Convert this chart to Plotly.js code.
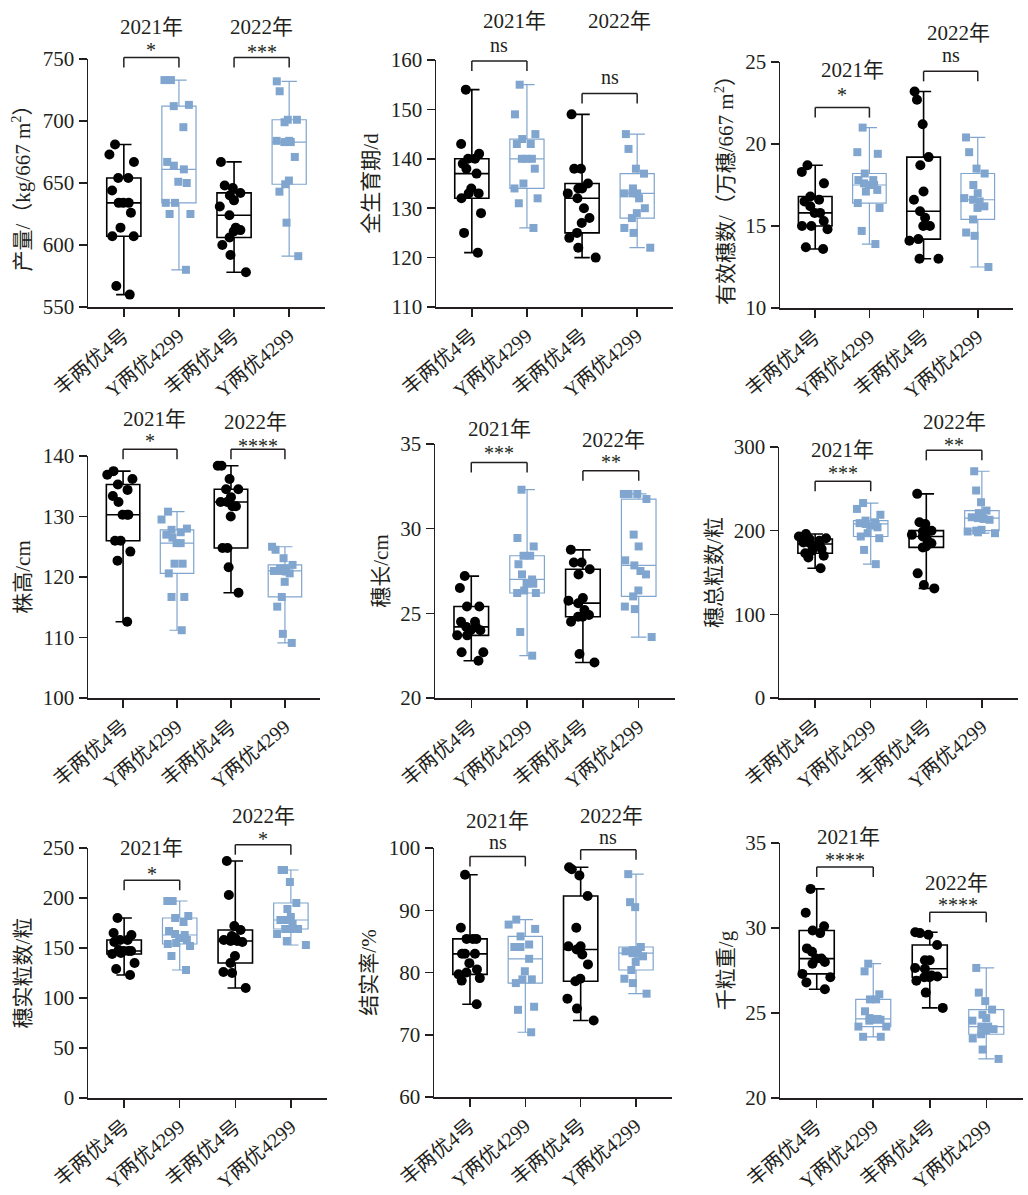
<!DOCTYPE html>
<html>
<head>
<meta charset="utf-8">
<script src="https://cdn.plot.ly/plotly-3.0.1.min.js"></script>
<style>body{margin:0;background:#fff}</style>
</head>
<body>
<div id="chart" style="width:1028px;height:1195px"></div>
<script>
// group labels on every x axis
const categories = ['丰两优4号', 'Y两优4299', '丰两优4号', 'Y两优4299']

// 产量 kg/667 m2
const yield_fl21 = [681, 673, 667, 654, 654, 644, 634, 634, 634, 626, 614, 607, 607, 567, 560]
const yield_yl21 = [733, 733, 713, 712, 695, 667, 664, 661, 651, 650, 634, 634, 625, 625, 580]
const yield_fl22 = [667, 648, 646, 642, 640, 636, 631, 624, 614, 612, 611, 606, 600, 592, 578]
const yield_yl22 = [732, 724, 701, 701, 699, 684, 684, 683, 683, 671, 652, 649, 643, 618, 591]

// 全生育期 d
const dur_fl21 = [154, 143, 141, 140, 140, 139, 138, 137, 134, 133, 133, 132, 129, 125, 121]
const dur_yl21 = [155, 149, 145, 144, 143, 143, 140, 140, 140, 138, 135, 134, 132, 131, 126]
const dur_fl22 = [149, 138, 138, 135, 134, 134, 133, 132, 130, 128, 127, 125, 124, 122, 120]
const dur_yl22 = [145, 142, 138, 137, 134, 133, 133, 133, 132, 130, 129, 128, 126, 125, 122]

// 有效穗数 万穗/667 m2
const pan_fl21 = [18.7, 18.3, 17.6, 16.8, 16.6, 16.5, 16.2, 15.8, 15.8, 15.3, 15.0, 15.0, 14.8, 13.7, 13.6]
const pan_yl21 = [21.0, 19.5, 19.4, 18.2, 17.8, 17.8, 17.6, 17.5, 17.5, 17.2, 17.1, 16.4, 16.1, 14.7, 13.9]
const pan_fl22 = [23.2, 22.7, 21.2, 19.2, 18.7, 17.1, 16.6, 15.9, 15.5, 15.0, 15.0, 14.2, 14.1, 13.0, 13.0]
const pan_yl22 = [20.4, 19.5, 18.5, 18.2, 17.5, 17.0, 16.7, 16.6, 16.5, 16.2, 16.1, 15.4, 14.6, 14.4, 12.5]

// 株高 cm
const ht_fl21 = [137.5, 136.9, 136.2, 135.3, 134.4, 133.4, 132.4, 130.3, 130.3, 130.3, 126, 126, 124.2, 122.7, 112.6]
const ht_yl21 = [130.8, 129.5, 128, 127.8, 127.4, 127, 126.5, 125.6, 125.6, 122.2, 122.2, 120.6, 116.7, 116.7, 111.2]
const ht_fl22 = [138.4, 138.4, 136.2, 134.5, 134.5, 133.2, 132.4, 132.4, 131.7, 131.7, 130, 124.8, 124.8, 121.6, 117.4]
const ht_yl22 = [125, 124.5, 123.1, 122, 121.4, 121.4, 121, 121, 120.9, 120.6, 119.2, 116.7, 115.1, 110.6, 109.1]

// 穗长 cm
const len_fl21 = [27.2, 26.5, 25.4, 25.4, 24.5, 24.5, 24.2, 24.2, 24.0, 24.0, 23.7, 23.7, 22.7, 22.7, 22.2]
const len_yl21 = [32.3, 29.45, 28.95, 28.4, 28.4, 27.9, 27.3, 27.0, 26.75, 26.75, 26.35, 26.2, 26.2, 23.9, 22.5]
const len_fl22 = [28.75, 28.0, 28.0, 27.6, 27.3, 25.9, 25.75, 25.6, 25.2, 24.9, 24.8, 24.8, 24.5, 22.6, 22.1]
const len_yl22 = [32.05, 32.05, 32.05, 31.75, 29.65, 28.95, 28.13, 27.83, 27.5, 27.3, 26.35, 26.0, 25.4, 25.25, 23.6]

// 穗总粒数
const tot_fl21 = [196, 193, 191, 190, 188, 186, 185, 184, 182, 178, 176, 173, 170, 168, 155]
const tot_yl21 = [233, 226, 219, 212, 210, 209, 208, 208, 206, 204, 197, 193, 191, 177, 160]
const tot_fl22 = [244, 210, 208, 200, 199, 197, 195, 193, 188, 185, 181, 180, 149, 135, 131]
const tot_yl22 = [271, 248, 234, 224, 221, 219, 216, 215, 214, 213, 201, 200, 199, 198, 197]

// 穗实粒数
const fil_fl21 = [180, 165, 163, 158, 158, 156, 148, 147, 147, 147, 145, 144, 135, 129, 123]
const fil_yl21 = [197, 197, 182, 180, 176, 167, 164, 163, 160, 158, 155, 154, 152, 142, 128]
const fil_fl22 = [237, 203, 172, 168, 162, 160, 158, 157, 157, 156, 142, 135, 126, 125, 110]
const fil_yl22 = [228, 228, 216, 195, 189, 181, 178, 178, 174, 169, 169, 169, 164, 157, 153]

// 结实率 %
const set_fl21 = [95.7, 87.2, 85.4, 85.4, 85.4, 83.0, 83.0, 83.0, 81.5, 80.5, 80.0, 79.7, 79.1, 78.7, 74.9]
const set_yl21 = [88.5, 87.7, 87.0, 85.8, 84.5, 84.1, 84.1, 82.2, 80.2, 78.9, 78.9, 78.3, 74.5, 74.0, 70.4]
const set_fl22 = [96.9, 96.6, 95.6, 92.3, 87.2, 84.2, 84.2, 83.7, 82.9, 81.3, 79.0, 78.6, 75.8, 74.2, 72.3]
const set_yl22 = [95.8, 91.3, 90.5, 84.1, 83.6, 83.5, 83.4, 83.1, 83.0, 82.6, 81.7, 80.4, 79.0, 78.3, 76.6]

// 千粒重 g
const tgw_fl21 = [32.3, 30.9, 30.1, 29.85, 29.7, 28.8, 28.6, 28.2, 28.2, 28.0, 27.9, 27.3, 27.1, 26.8, 26.4]
const tgw_yl21 = [27.9, 27.45, 26.1, 25.8, 25.8, 25.1, 24.7, 24.65, 24.6, 24.6, 24.55, 24.2, 24.2, 23.6, 23.6]
const tgw_fl22 = [29.75, 29.7, 29.6, 29.0, 28.1, 28.1, 27.65, 27.6, 27.2, 27.15, 27.1, 27.1, 26.9, 26.2, 25.3]
const tgw_yl22 = [27.65, 26.2, 25.7, 25.2, 24.9, 24.7, 24.55, 24.2, 24.2, 24.05, 24.0, 23.75, 23.5, 22.85, 22.3]

// significance marks per panel
const sig_2021 = ['*', 'ns', '*', '*', '***', '***', '*', 'ns', '****']
const sig_2022 = ['***', 'ns', 'ns', '****', '**', '**', '*', 'ns', '****']

const W = 1028, H = 1195
const x_range = [-0.65, 3.65]
const text_color = '#231f20'
const blue = '#80a5ce'
const font_family = '"Liberation Serif", "Times New Roman", "Noto Sans CJK SC", serif'

// box [left, right, top, bottom] in page pixels, bracket: [top value, sig offset px, year offset px, year dx]
const panels = [
    {title: '产量/（kg/667 m<sup>2</sup>）', range: [550, 750], dtick: 50, box: [88, 325, 59, 307],
     data: [yield_fl21, yield_yl21, yield_fl22, yield_yl22],
     b21: [751.3, 10, 30, 0], b22: [751.3, 8, 30, 0]},
    {title: '全生育期/d', range: [110, 160], dtick: 10, box: [436, 673, 60, 307],
     data: [dur_fl21, dur_yl21, dur_fl22, dur_yl22],
     b21: [159.8, 14, 40, 15], b22: [153.2, 15, 73, 10]},
    {title: '有效穗数/（万穗/667 m<sup>2</sup>）', range: [10, 25], dtick: 5, box: [780, 1013, 62, 308],
     data: [pan_fl21, pan_yl21, pan_fl22, pan_yl22],
     b21: [22.22, 15.6, 38, 10], b22: [24.43, 14.3, 38, 8]},
    {title: '株高/cm', range: [100, 140], dtick: 10, box: [88, 320, 456, 698],
     data: [ht_fl21, ht_yl21, ht_fl22, ht_yl22],
     b21: [141.1, 11, 30, 4], b22: [141.1, 6.6, 27, -2]},
    {title: '穗长/cm', range: [20, 35], dtick: 5, box: [435, 675, 444, 698],
     data: [len_fl21, len_yl21, len_fl22, len_yl22],
     b21: [33.91, 12.7, 33, 0], b22: [33.42, 11.7, 31, 3]},
    {title: '穗总粒数/粒', range: [0, 300], dtick: 100, box: [779, 1018, 447, 698],
     data: [tot_fl21, tot_yl21, tot_fl22, tot_yl22],
     b21: [259.1, 11, 31, 0], b22: [296, 8.3, 28.5, 0]},
    {title: '穗实粒数/粒', range: [0, 250], dtick: 50, box: [88, 327, 848, 1098],
     data: [fil_fl21, fil_yl21, fil_fl22, fil_yl22],
     b21: [217.7, 9.7, 32, 0], b22: [253.3, 9, 28.5, 0]},
    {title: '结实率/%', range: [60, 100], dtick: 10, box: [434, 672, 848, 1097],
     data: [set_fl21, set_yl21, set_fl22, set_yl22],
     b21: [98.65, 12, 35, 0], b22: [99.7, 11, 34, 3]},
    {title: '千粒重/g', range: [20, 35], dtick: 5, box: [780, 1023, 843, 1098],
     data: [tgw_fl21, tgw_yl21, tgw_fl22, tgw_yl22],
     b21: [33.59, 10, 29.5, 4], b22: [30.92, 10, 29, -2]},
]

function quantile(sorted, q) {
    // (n+1) method, as GraphPad does
    var pos = q * (sorted.length + 1) - 1
    if (pos <= 0) return sorted[0]
    if (pos >= sorted.length - 1) return sorted[sorted.length - 1]
    var lo = Math.floor(pos)
    return sorted[lo] + (pos - lo) * (sorted[lo + 1] - sorted[lo])
}

function box_trace(id, positions, samples, color, symbol, size, line_width) {
    var stats = samples.map(function (s) {
        var sorted = s.slice().sort(function (a, b) { return a - b })
        return {
            q1: quantile(sorted, 0.25),
            med: quantile(sorted, 0.5),
            q3: quantile(sorted, 0.75),
            lo: sorted[0],
            hi: sorted[sorted.length - 1],
        }
    })
    return {
        type: 'box',
        orientation: 'v',
        x: positions,
        y: samples,
        q1: stats.map(function (s) { return s.q1 }),
        median: stats.map(function (s) { return s.med }),
        q3: stats.map(function (s) { return s.q3 }),
        lowerfence: stats.map(function (s) { return s.lo }),
        upperfence: stats.map(function (s) { return s.hi }),
        boxpoints: 'all',
        jitter: 1,
        pointpos: 0,
        width: 0.62,
        whiskerwidth: 0.45,
        fillcolor: 'rgba(0,0,0,0)',
        line: {color: color, width: line_width},
        marker: {color: color, symbol: symbol, size: size, line: {width: 0}},
        xaxis: 'x' + id,
        yaxis: 'y' + id,
        hoverinfo: 'skip',
    }
}

function bracket(p, id, from, to, spec, sig, year) {
    var y0 = p.range[0], y1 = p.range[1]
    var h = p.box[3] - p.box[2]
    var fx = function (v) { return (v - x_range[0]) / (x_range[1] - x_range[0]) }
    var fy = function (v) { return (v - y0) / (y1 - y0) }
    var top = fy(spec[0])
    var leg = top - 10 / h
    var xref = 'x' + id + ' domain', yref = 'y' + id + ' domain'
    var base = {type: 'line', xref: xref, yref: yref, line: {color: text_color, width: 1.5}}
    var shapes = [
        Object.assign({x0: fx(from), x1: fx(to), y0: top, y1: top}, base),
        Object.assign({x0: fx(from), x1: fx(from), y0: top, y1: leg}, base),
        Object.assign({x0: fx(to), x1: fx(to), y0: top, y1: leg}, base),
    ]
    var sig_shift = sig === 'ns' ? spec[1] + 2 : spec[1] - 3
    var annotations = [
        {xref: xref, yref: yref, x: fx((from + to) / 2), y: top, text: sig,
         showarrow: false, xanchor: 'center', yanchor: 'middle', yshift: sig_shift,
         font: {family: font_family, size: 20, color: text_color}},
        {xref: xref, yref: yref, x: fx((from + to) / 2), y: top, text: year,
         showarrow: false, xanchor: 'center', yanchor: 'middle', yshift: spec[2], xshift: spec[3],
         font: {family: font_family, size: 21, color: text_color}},
    ]
    return {shapes: shapes, annotations: annotations}
}

var traces = []
var layout = {
    width: W,
    height: H,
    margin: {t: 0, r: 0, b: 0, l: 0},
    paper_bgcolor: '#fff',
    plot_bgcolor: 'rgba(0,0,0,0)',
    showlegend: false,
    shapes: [],
    annotations: [],
    font: {family: font_family, color: text_color},
}

panels.forEach(function (p, i) {
    var id = i === 0 ? '' : String(i + 1)
    var idx = categories.map(function (c, k) { return k })

    traces.push(box_trace(id, [idx[0], idx[2]], [p.data[0], p.data[2]], '#000', 'circle', 10, 1.6))
    traces.push(box_trace(id, [idx[1], idx[3]], [p.data[1], p.data[3]], blue, 'square', 8, 1.2))

    var axis = {
        showline: true,
        linecolor: text_color,
        linewidth: 1.5,
        ticks: 'outside',
        ticklen: 8,
        tickwidth: 1.5,
        tickcolor: text_color,
        showgrid: false,
        zeroline: false,
        tickfont: {family: font_family, size: 21, color: text_color},
    }
    layout['xaxis' + id] = Object.assign({}, axis, {
        domain: [p.box[0] / W, p.box[1] / W],
        range: x_range,
        anchor: 'y' + id,
        tickmode: 'array',
        tickvals: idx,
        ticktext: categories,
        tickangle: -40,
        tickfont: {family: font_family, size: 20, color: text_color},
    })
    layout['yaxis' + id] = Object.assign({}, axis, {
        domain: [1 - p.box[3] / H, 1 - p.box[2] / H],
        range: p.range,
        dtick: p.dtick,
        tick0: p.range[0],
        anchor: 'x' + id,
        ticklabelstandoff: 0,
        title: {text: p.title, font: {family: font_family, size: 21, color: text_color}, standoff: 6},
    })

    var b1 = bracket(p, id, 0, 1, p.b21, sig_2021[i], '2021年')
    var b2 = bracket(p, id, 2, 3, p.b22, sig_2022[i], '2022年')
    layout.shapes = layout.shapes.concat(b1.shapes, b2.shapes)
    layout.annotations = layout.annotations.concat(b1.annotations, b2.annotations)
})

Plotly.newPlot('chart', traces, layout, {displayModeBar: false, staticPlot: true})
</script>
</body>
</html>
